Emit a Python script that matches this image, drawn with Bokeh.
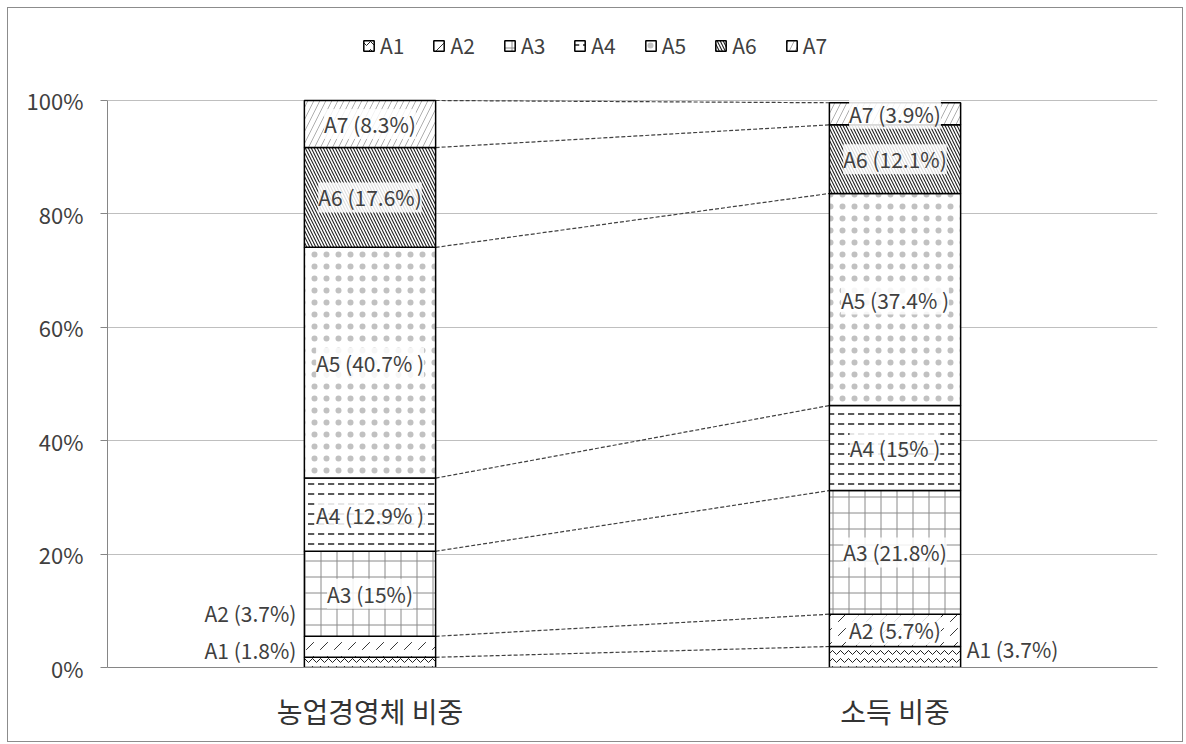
import numpy as np
from bokeh.plotting import figure
from bokeh.models import (Range1d, FixedTicker, ColumnDataSource, LabelSet,
                          Legend, LegendItem)
from bokeh.core.properties import value
from bokeh.embed import file_html
from bokeh.resources import INLINE

# ---------------- data ----------------
categories = ["농업경영체 비중", "소득 비중"]
series = ["A1", "A2", "A3", "A4", "A5", "A6", "A7"]
farm_share = [1.8, 3.7, 15.0, 12.9, 40.7, 17.6, 8.3]
income_share = [3.7, 5.7, 21.8, 15.0, 37.4, 12.1, 3.9]
farm_labels = ["A1 (1.8%)", "A2 (3.7%)", "A3 (15%)", "A4 (12.9% )",
               "A5 (40.7% )", "A6 (17.6%)", "A7 (8.3%)"]
income_labels = ["A1 (3.7%)", "A2 (5.7%)", "A3 (21.8%)", "A4 (15% )",
                 "A5 (37.4% )", "A6 (12.1%)", "A7 (3.9%)"]
y_ticks = [0, 20, 40, 60, 80, 100]
y_tick_labels = ["0%", "20%", "40%", "60%", "80%", "100%"]

# ---------------- styles ----------------
FONT = "Noto Sans CJK KR"
TXT = "#404040"

hatches = {
    "A1": dict(hatch_pattern="horizontal_wave", hatch_scale=8, hatch_weight=1.0, hatch_color="#222222"),
    "A2": dict(hatch_pattern="right_diagonal_dash", hatch_scale=14, hatch_weight=1.0, hatch_color="#333333"),
    "A3": dict(hatch_pattern="cross", hatch_scale=16, hatch_weight=1.0, hatch_color="#8a8a8a"),
    "A4": dict(hatch_pattern="horizontal_dash", hatch_scale=10, hatch_weight=1.5, hatch_color="#222222"),
    "A5": dict(hatch_pattern="dot", hatch_scale=12, hatch_weight=0.2, hatch_color="#333333", hatch_alpha=0.3),
    "A6": dict(hatch_pattern="left_diagonal_line", hatch_scale=6, hatch_weight=1.1, hatch_color="#222222"),
    "A7": dict(hatch_pattern="right_diagonal_line", hatch_scale=12, hatch_weight=0.8, hatch_color="#999999"),
}

xs = [0.5, 1.5]
bar_w = 0.25

left_vals = np.array(farm_share)
right_vals = np.array(income_share)
left_top = np.cumsum(left_vals)
right_top = np.cumsum(right_vals)
left_bot = left_top - left_vals
right_bot = right_top - right_vals

p = figure(width=1176, height=735, x_range=Range1d(0, 2), y_range=Range1d(0, 114.46),
           output_backend="svg", toolbar_location=None,
           min_border_left=99, min_border_right=27, min_border_top=10, min_border_bottom=76,
           styles={"border": "1px solid #8c8c8c", "margin-left": "7px", "margin-top": "7px"})
p.outline_line_color = None
p.background_fill_color = "white"
p.border_fill_color = "white"

# grid / axes
p.xgrid.grid_line_color = None
p.ygrid.grid_line_color = "#bfbfbf"
p.ygrid.grid_line_width = 1
p.yaxis.ticker = FixedTicker(ticks=y_ticks)
p.yaxis.bounds = (y_ticks[0], y_ticks[-1])
p.yaxis.major_label_overrides = {t: l for t, l in zip(y_ticks, y_tick_labels)}
p.yaxis.axis_line_color = "#868686"
p.yaxis.major_tick_line_color = "#868686"
p.yaxis.major_tick_in = 0
p.yaxis.major_tick_out = 7
p.yaxis.minor_tick_line_color = None
p.yaxis.major_label_text_font = FONT
p.yaxis.major_label_text_font_size = "22px"
p.yaxis.major_label_text_color = TXT
p.yaxis.major_label_standoff = 17

p.xaxis.ticker = FixedTicker(ticks=xs)
p.xaxis.major_label_overrides = {x: c for x, c in zip(xs, categories)}
p.xaxis.axis_line_color = "#868686"
p.xaxis.major_tick_line_color = None
p.xaxis.major_tick_out = 0
p.xaxis.major_tick_in = 0
p.xaxis.minor_tick_line_color = None
p.xaxis.major_label_text_font = FONT
p.xaxis.major_label_text_font_size = "28px"
p.xaxis.major_label_text_color = "#333333"
p.xaxis.major_label_standoff = 23

# connectors
p.segment(x0=[xs[0] + bar_w / 2] * len(series), y0=left_top,
          x1=[xs[1] - bar_w / 2] * len(series), y1=right_top,
          line_color="#404040", line_width=1.2, line_dash="4 2")

# bars
items = []
for i, s in enumerate(series):
    r = p.vbar(x=xs, bottom=[left_bot[i], right_bot[i]], top=[left_top[i], right_top[i]],
               width=bar_w, fill_color="white", line_color="black", line_width=1.5,
               **hatches[s])
    items.append(LegendItem(label=s, renderers=[r]))

legend = Legend(items=items, orientation="horizontal", location=(255, 607),
                glyph_width=13, glyph_height=13, spacing=28, label_standoff=5,
                label_text_font=FONT, label_text_font_size="21px", label_text_color=TXT,
                border_line_color=None, background_fill_alpha=0, padding=0, margin=0)
p.add_layout(legend, "center")

LBL = dict(text_font=value(FONT), text_font_size="21px", text_color=TXT, text_baseline="middle")

# labels inside bars
inside_x, inside_y, inside_t = [], [], []
for i in range(2, 7):
    inside_x.append(xs[0]); inside_y.append((left_bot[i] + left_top[i]) / 2); inside_t.append(farm_labels[i])
for i in range(1, 7):
    inside_x.append(xs[1]); inside_y.append((right_bot[i] + right_top[i]) / 2); inside_t.append(income_labels[i])
src_in = ColumnDataSource(dict(x=inside_x, y=inside_y, t=inside_t))
p.add_layout(LabelSet(x="x", y="y", text="t", source=src_in, text_align="center",
                      background_fill_color="white", background_fill_alpha=0.85, **LBL))

# outside labels: left bar A1/A2 to the left, right bar A1 to the right
src_l = ColumnDataSource(dict(x=[xs[0] - bar_w / 2] * 2,
                              y=[(left_bot[i] + left_top[i]) / 2 for i in (0, 1)],
                              t=[farm_labels[0], farm_labels[1]],
                              dy=[12, 34]))
p.add_layout(LabelSet(x="x", y="y", text="t", source=src_l, text_align="right",
                      x_offset=-8, y_offset="dy", **LBL))
src_r = ColumnDataSource(dict(x=[xs[1] + bar_w / 2],
                              y=[(right_bot[0] + right_top[0]) / 2],
                              t=[income_labels[0]]))
p.add_layout(LabelSet(x="x", y="y", text="t", source=src_r, text_align="left",
                      x_offset=6, y_offset=8, **LBL))

open("out.html", "w").write(file_html(p, INLINE))
